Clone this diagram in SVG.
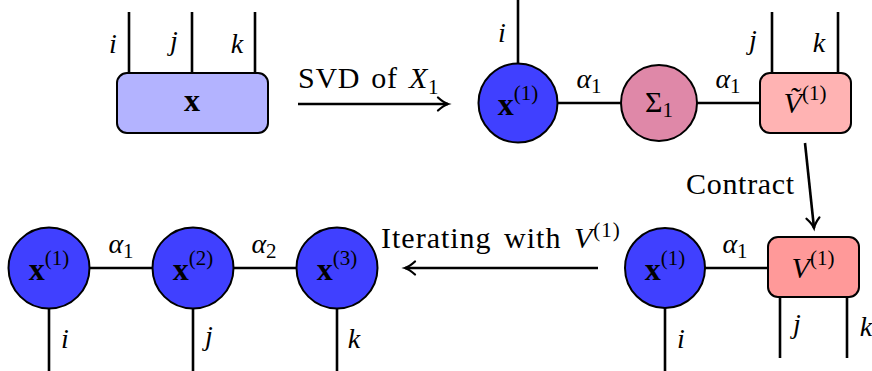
<svg xmlns="http://www.w3.org/2000/svg" width="872" height="371" viewBox="0 0 872 371">
<style>
text{font-family:"Liberation Serif","Times New Roman",Times,"DejaVu Serif",serif;fill:#000;font-size:30px}
.m{font-style:italic;font-size:28px}
.b{font-weight:bold;font-size:32px}
.s{font-size:21px;font-style:normal;font-weight:normal}
.leg{stroke:#000;stroke-width:2.6;fill:none}
.node{stroke:#000;stroke-width:2}
.blue{fill:#4040ff}
</style>
<defs>
<marker id="ah" markerWidth="18" markerHeight="18" refX="13" refY="9" orient="auto" markerUnits="userSpaceOnUse">
<path d="M3 2.5 Q8.5 7.5 13 9 Q8.5 10.5 3 15.5" fill="none" stroke="#000" stroke-width="2.3" stroke-linecap="round"/>
</marker>
</defs>
<g id="connectors">
<line class="leg" x1="129" y1="12" x2="129" y2="74"/>
<line class="leg" x1="192" y1="12" x2="192" y2="74"/>
<line class="leg" x1="255" y1="12" x2="255" y2="74"/>
<line class="leg" x1="298" y1="104" x2="448" y2="104" marker-end="url(#ah)"/>
<line class="leg" x1="518" y1="0" x2="518" y2="64"/>
<line class="leg" x1="558" y1="103" x2="621" y2="103"/>
<line class="leg" x1="697" y1="103" x2="760" y2="103"/>
<line class="leg" x1="772" y1="12" x2="772" y2="74"/>
<line class="leg" x1="838" y1="12" x2="838" y2="74"/>
<line class="leg" x1="805" y1="143" x2="814" y2="228" marker-end="url(#ah)"/>
<line class="leg" x1="705" y1="268" x2="768" y2="268"/>
<line class="leg" x1="665" y1="308" x2="665" y2="371"/>
<line class="leg" x1="780" y1="297" x2="780" y2="358"/>
<line class="leg" x1="847" y1="297" x2="847" y2="358"/>
<line class="leg" x1="598" y1="268" x2="405" y2="268" marker-end="url(#ah)"/>
<line class="leg" x1="90" y1="268" x2="152" y2="268"/>
<line class="leg" x1="234" y1="268" x2="296" y2="268"/>
<line class="leg" x1="49" y1="309" x2="49" y2="371"/>
<line class="leg" x1="193" y1="309" x2="193" y2="371"/>
<line class="leg" x1="337" y1="309" x2="337" y2="371"/>
</g>
<g id="X">
<rect class="node" x="117" y="73" width="151" height="60" rx="10" fill="#b3b3ff"/>
<text x="192" y="111" text-anchor="middle" class="b">x</text>
<text class="m" x="113" y="53" text-anchor="middle">i</text>
<text class="m" x="174" y="50" text-anchor="middle">j</text>
<text class="m" x="237" y="53" text-anchor="middle">k</text>
</g>
<g id="svd-label">
<text x="298" y="88" letter-spacing="0.7" word-spacing="3">SVD of <tspan font-style="italic">X</tspan><tspan class="s" dy="6">1</tspan></text>
</g>
<g id="X1-top">
<circle class="node blue" cx="518" cy="103" r="39.5"/>
<text x="518" y="115" text-anchor="middle"><tspan class="b">x</tspan><tspan class="s" dy="-15">(1)</tspan></text>
<text class="m" x="502" y="42" text-anchor="middle">i</text>
</g>
<g id="Sigma1">
<circle class="node" cx="659" cy="103" r="38" fill="#df88a8"/>
<text x="659" y="112" text-anchor="middle">Σ<tspan class="s" dy="5">1</tspan></text>
</g>
<g id="Vt1">
<rect class="node" x="760" y="73" width="91" height="60" rx="10" fill="#ffb3b3"/>
<text x="805" y="113" text-anchor="middle" font-style="italic">Ṽ<tspan class="s" dy="-13">(1)</tspan></text>
<text class="m" x="753" y="49" text-anchor="middle">j</text>
<text class="m" x="819" y="52" text-anchor="middle">k</text>
</g>
<g id="alpha-top">
<text class="m" x="589" y="88" text-anchor="middle">α<tspan class="s" dy="5">1</tspan></text>
<text class="m" x="728" y="88" text-anchor="middle">α<tspan class="s" dy="5">1</tspan></text>
</g>
<g id="contract-label">
<text x="686" y="194" letter-spacing="0.7">Contract</text>
</g>
<g id="X1-right">
<circle class="node blue" cx="665" cy="268" r="40"/>
<text x="665" y="280" text-anchor="middle"><tspan class="b">x</tspan><tspan class="s" dy="-15">(1)</tspan></text>
<text class="m" x="681" y="348" text-anchor="middle">i</text>
<text class="m" x="735" y="253" text-anchor="middle">α<tspan class="s" dy="5">1</tspan></text>
</g>
<g id="V1">
<rect class="node" x="768" y="237" width="91" height="60" rx="10" fill="#ff9999"/>
<text x="813" y="278" text-anchor="middle" font-style="italic">V<tspan class="s" dy="-13">(1)</tspan></text>
<text class="m" x="797" y="333" text-anchor="middle">j</text>
<text class="m" x="866" y="336" text-anchor="middle">k</text>
</g>
<g id="iter-label">
<text x="381" y="248" letter-spacing="1" word-spacing="4">Iterating with <tspan font-style="italic">V</tspan><tspan class="s" dy="-11">(1)</tspan></text>
</g>
<g id="X1">
<circle class="node blue" cx="49" cy="268" r="40.5"/>
<text x="49" y="280" text-anchor="middle"><tspan class="b">x</tspan><tspan class="s" dy="-15">(1)</tspan></text>
<text class="m" x="65" y="348" text-anchor="middle">i</text>
</g>
<g id="X2">
<circle class="node blue" cx="193" cy="268" r="40.5"/>
<text x="193" y="280" text-anchor="middle"><tspan class="b">x</tspan><tspan class="s" dy="-15">(2)</tspan></text>
<text class="m" x="209" y="345" text-anchor="middle">j</text>
</g>
<g id="X3">
<circle class="node blue" cx="337" cy="268" r="40.5"/>
<text x="337" y="280" text-anchor="middle"><tspan class="b">x</tspan><tspan class="s" dy="-15">(3)</tspan></text>
<text class="m" x="354" y="348" text-anchor="middle">k</text>
</g>
<g id="alpha-bottom">
<text class="m" x="121" y="253" text-anchor="middle">α<tspan class="s" dy="5">1</tspan></text>
<text class="m" x="264" y="253" text-anchor="middle">α<tspan class="s" dy="5">2</tspan></text>
</g>
</svg>
